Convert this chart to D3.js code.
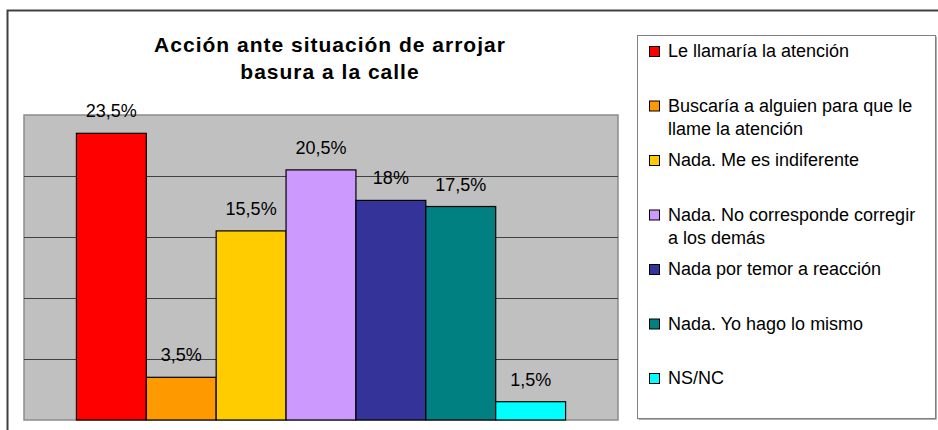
<!DOCTYPE html>
<html>
<head>
<meta charset="utf-8">
<script src="https://cdn.jsdelivr.net/npm/d3@7"></script>
<style>
  body { margin: 0; background: #fff; }
  svg { display: block; font-family: "Liberation Sans", Arial, sans-serif; }
</style>
</head>
<body>
<div id="chart"></div>
<script>
"use strict";

// data
const categories = [
  "Le llamaría la atención",
  "Buscaría a alguien para que le llame la atención",
  "Nada. Me es indiferente",
  "Nada. No corresponde corregir a los demás",
  "Nada por temor a reacción",
  "Nada. Yo hago lo mismo",
  "NS/NC"
];
const legendLines = [
  ["Le llamaría la atención"],
  ["Buscaría a alguien para que le", "llame la atención"],
  ["Nada. Me es indiferente"],
  ["Nada. No corresponde corregir", "a los demás"],
  ["Nada por temor a reacción"],
  ["Nada. Yo hago lo mismo"],
  ["NS/NC"]
];
const values = [23.5, 3.5, 15.5, 20.5, 18, 17.5, 1.5];
const colors = ["#FF0000", "#FF9900", "#FFCC00", "#CC99FF", "#333399", "#008080", "#00FFFF"];
const gridTicks = [5, 10, 15, 20];
const titleLines = ["Acción ante situación de arrojar", "basura a la calle"];

const width = 938, height = 430;
const plot = { left: 24, top: 115, right: 618, bottom: 420 };

const svg = d3.select("#chart").append("svg")
    .attr("width", width)
    .attr("height", height);

// outer chart frame (runs off the right and bottom edge)
svg.append("rect")
    .attr("x", 7.5).attr("y", 10.5)
    .attr("width", 960).attr("height", 460)
    .attr("fill", "#fff")
    .attr("stroke", "#404040")
    .attr("stroke-width", 2);

const x = d3.scaleBand()
    .domain(categories)
    .range([plot.left, plot.right])
    .paddingInner(0)
    .paddingOuter(0.75);

const y = d3.scaleLinear()
    .domain([0, 25])
    .range([plot.bottom, plot.top]);

// plot area
svg.append("rect")
    .attr("x", plot.left).attr("y", plot.top)
    .attr("width", plot.right - plot.left)
    .attr("height", plot.bottom - plot.top)
    .attr("fill", "#C0C0C0")
    .attr("stroke", "#8c8c8c")
    .attr("stroke-width", 1.5);

svg.append("g")
  .selectAll("line")
  .data(gridTicks)
  .join("line")
    .attr("x1", plot.left).attr("x2", plot.right)
    .attr("y1", d => Math.round(y(d)) + 0.5)
    .attr("y2", d => Math.round(y(d)) + 0.5)
    .attr("stroke", "#404040")
    .attr("stroke-width", 1);

// bars
svg.append("g")
  .selectAll("rect")
  .data(values)
  .join("rect")
    .attr("x", (d, i) => x(categories[i]))
    .attr("y", d => y(d))
    .attr("width", x.bandwidth())
    .attr("height", d => y(0) - y(d))
    .attr("fill", (d, i) => colors[i])
    .attr("stroke", "#000")
    .attr("stroke-width", 1.2);

// data labels
const fmt = d => String(d).replace(".", ",") + "%";
svg.append("g")
  .selectAll("text")
  .data(values)
  .join("text")
    .attr("x", (d, i) => x(categories[i]) + x.bandwidth() / 2)
    .attr("y", d => y(d) - 16)
    .attr("text-anchor", "middle")
    .attr("font-size", 18)
    .attr("fill", "#000")
    .text(fmt);

// title
svg.append("text")
    .attr("x", 330)
    .attr("text-anchor", "middle")
    .attr("font-size", 21)
    .attr("font-weight", "bold")
    .attr("letter-spacing", 1)
  .selectAll("tspan")
  .data(titleLines)
  .join("tspan")
    .attr("x", 330)
    .attr("y", (d, i) => 52 + i * 27)
    .text(d => d);

// legend
svg.append("rect")
    .attr("x", 638.5).attr("y", 36.5)
    .attr("width", 298).attr("height", 383)
    .attr("fill", "#606060");
svg.append("rect")
    .attr("x", 637.5).attr("y", 35.5)
    .attr("width", 298).attr("height", 383)
    .attr("fill", "#fff")
    .attr("stroke", "#808080")
    .attr("stroke-width", 1);

const legend = svg.append("g")
  .selectAll("g")
  .data(legendLines)
  .join("g")
    .attr("transform", (d, i) => `translate(649, ${57 + i * 54.5})`);

legend.append("rect")
    .attr("x", 0.5).attr("y", -10.5)
    .attr("width", 10).attr("height", 10)
    .attr("fill", (d, i) => colors[i])
    .attr("stroke", "#000")
    .attr("stroke-width", 1);

legend.append("text")
    .attr("font-size", 18)
    .attr("fill", "#000")
  .selectAll("tspan")
  .data(d => d)
  .join("tspan")
    .attr("x", 19)
    .attr("y", (d, i) => i * 23)
    .text(d => d);
</script>
</body>
</html>
